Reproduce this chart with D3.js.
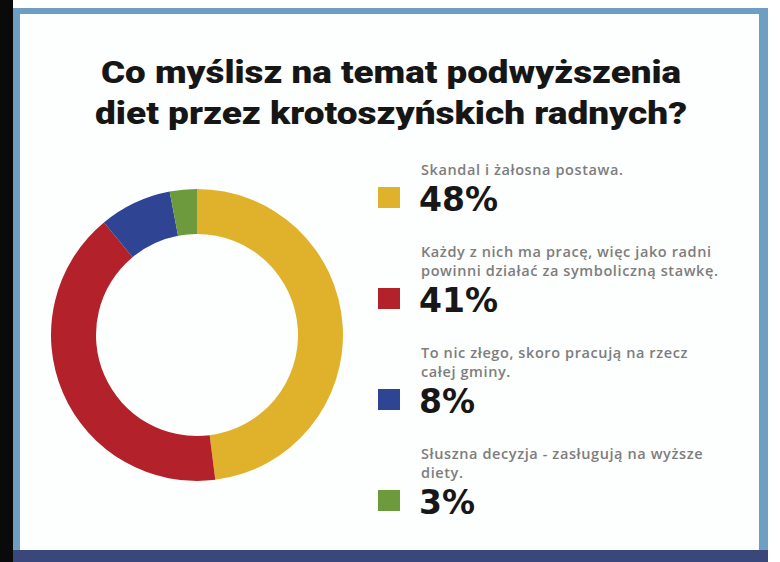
<!DOCTYPE html>
<html>
  <head>
    <meta charset="utf-8">
    <style>
      body { margin: 0; background: #fff; }
      svg { display: block; }
    </style>
    <title>Diety radnych</title>
  </head>
  <body>
  <div id="viz-wrapper"></div>
  <script src="https://cdnjs.cloudflare.com/ajax/libs/d3/7.8.5/d3.min.js" charset="utf-8"></script>
  <script type="text/javascript">

    // data
    var titleLines = ['Co myślisz na temat podwyższenia', 'diet przez krotoszyńskich radnych?'];
    var answers = [
      ['Skandal i żałosna postawa.'],
      ['Każdy z nich ma pracę, więc jako radni', 'powinni działać za symboliczną stawkę.'],
      ['To nic złego, skoro pracują na rzecz', 'całej gminy.'],
      ['Słuszna decyzja - zasługują na wyższe', 'diety.']
    ];
    var percents = [48, 41, 8, 3];
    var colors = ['#e0b22c', '#b3222a', '#2f4493', '#6c9a3c'];

    var width = 780;
    var height = 562;

    var viz = d3.select('#viz-wrapper')
                .append('svg')
                .attr('width', width)
                .attr('height', height);

    // black strip on the left, light blue frame, navy band at bottom
    viz.append('rect').attr('x', 0).attr('y', 0).attr('width', 13).attr('height', height).style('fill', '#0a0a0a');
    viz.append('rect').attr('x', 13).attr('y', 8).attr('width', 755).attr('height', 545).style('fill', '#6d9fc3');
    viz.append('rect').attr('x', 20).attr('y', 14).attr('width', 739).attr('height', 537).style('fill', '#fdfefe');
    viz.append('rect').attr('x', 13).attr('y', 550).attr('width', 755).attr('height', 12).style('fill', '#3a477a');

    // title
    viz.selectAll('text.title')
       .data(titleLines)
       .enter()
       .append('text')
       .attr('class', 'title')
       .attr('x', 391)
       .attr('y', function(d, i) { return 83 + i * 41; })
       .attr('text-anchor', 'middle')
       .attr('textLength', function(d, i) { return i === 0 ? 580 : 592; })
       .attr('lengthAdjust', 'spacingAndGlyphs')
       .style('font-family', 'Roboto, "DejaVu Sans", sans-serif')
       .style('font-weight', '900')
       .style('font-size', '32px')
       .style('fill', '#161616')
       .text(function(d) { return d; });

    // donut
    var pie = d3.pie().sort(null).value(function(d) { return d; });
    var arc = d3.arc().innerRadius(101).outerRadius(146);

    var donut = viz.append('g').attr('transform', 'translate(197,335)');
    donut.selectAll('path')
         .data(pie(percents))
         .enter()
         .append('path')
         .attr('d', arc)
         .style('fill', function(d, i) { return colors[i]; });

    // legend
    var y = d3.scalePoint().domain(d3.range(percents.length)).range([198, 501]);

    var items = viz.selectAll('g.item')
                   .data(percents)
                   .enter()
                   .append('g')
                   .attr('class', 'item')
                   .attr('transform', function(d, i) { return 'translate(0,' + y(i) + ')'; });

    items.append('rect')
         .attr('x', 378)
         .attr('y', -11)
         .attr('width', 22)
         .attr('height', 21)
         .style('fill', function(d, i) { return colors[i]; });

    items.append('text')
         .attr('x', 419)
         .attr('y', 13)
         .style('font-family', '"DejaVu Sans", sans-serif')
         .style('font-weight', 'bold')
         .style('font-size', '33px')
         .style('fill', '#171717')
         .text(function(d) { return d + '%'; });

    items.each(function(d, i) {
      var lines = answers[i];
      d3.select(this).selectAll('text.lbl')
        .data(lines)
        .enter()
        .append('text')
        .attr('class', 'lbl')
        .attr('x', 421)
        .attr('y', function(l, j) { return -23 - (lines.length - 1 - j) * 19; })
        .style('font-family', '"Open Sans", sans-serif')
        .style('font-weight', '600')
        .style('font-size', '14.5px')
        .style('letter-spacing', '0.6px')
        .style('fill', '#7d7d7d')
        .text(function(l) { return l; });
    });

  </script>
  </body>
</html>
